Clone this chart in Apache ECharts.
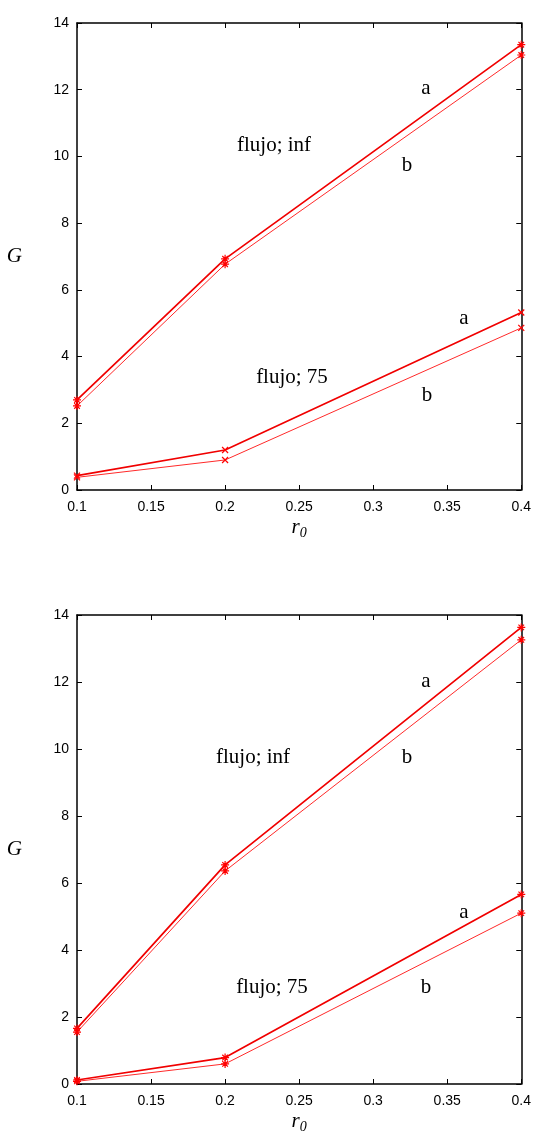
<!DOCTYPE html>
<html>
<head>
<meta charset="utf-8">
<script src="https://cdn.jsdelivr.net/npm/echarts@6/dist/echarts.min.js"></script>
<style>
  html, body { margin: 0; padding: 0; background: #fff; }
  #main { width: 534px; height: 1135px; }
</style>
</head>
<body>
<div id="main"></div>
<script>
// radio r0 (eje x)
const r0 = [0.1, 0.2, 0.4];
// grafico de arriba
const topInfA = [2.7, 6.93, 13.35];
const topInfB = [2.52, 6.77, 13.04];
const top75A = [0.43, 1.2, 5.32];
const top75B = [0.38, 0.9, 4.86];
// grafico de abajo
const botInfA = [1.66, 6.54, 13.63];
const botInfB = [1.55, 6.36, 13.26];
const bot75A = [0.12, 0.79, 5.66];
const bot75B = [0.08, 0.6, 5.1];

const serif = 'Liberation Serif';
const sans = 'Liberation Sans';
const RED_A = '#f00000';
const RED_B = '#ff2a2a';
const STAR = 'path://M0,5L10,5M5,0L5,10M1.5,1.5L8.5,8.5M8.5,1.5L1.5,8.5';
const CROSS = 'path://M0,0L10,10M10,0L0,10';

const chart = echarts.init(document.getElementById('main'));

function pts (ys) {
  return r0.map((x, i) => [x, ys[i]]);
}

function line (name, ys, grid, thick, sym) {
  return {
    name: name,
    type: 'line',
    xAxisIndex: grid * 2,
    yAxisIndex: grid * 2,
    data: pts(ys),
    symbol: sym,
    symbolSize: sym === CROSS ? 6 : 8,
    showSymbol: true,
    animation: false,
    lineStyle: { color: thick ? RED_A : RED_B, width: thick ? 1.7 : 1 },
    itemStyle: { color: 'rgba(0,0,0,0)', borderColor: '#ff0000', borderWidth: 1.2 }
  }
}

function xAxes (grid) {
  const base = {
    gridIndex: grid,
    type: 'value',
    min: 0.1,
    max: 0.4,
    interval: 0.05,
    axisLine: { show: true, onZero: false, lineStyle: { color: '#000', width: 1.5 } },
    axisTick: { show: true, inside: true, length: 5, lineStyle: { color: '#000' } },
    splitLine: { show: false }
  }
  return [
    Object.assign({}, base, {
      position: 'bottom',
      axisLabel: { color: '#000', fontFamily: sans, fontSize: 14, margin: 10, formatter: v => String(+v.toFixed(2)) },
      name: '{r|r}{s|0}',
      nameLocation: 'middle',
      nameGap: 24,
      nameTextStyle: {
        rich: {
          r: { fontFamily: serif, fontStyle: 'italic', fontSize: 21, color: '#000' },
          s: { fontFamily: serif, fontStyle: 'italic', fontSize: 14, color: '#000', verticalAlign: 'bottom', padding: [12, 0, 0, 0] }
        }
      }
    }),
    Object.assign({}, base, { position: 'top', axisLabel: { show: false } })
  ]
}

function yAxes (grid) {
  const base = {
    gridIndex: grid,
    type: 'value',
    min: 0,
    max: 14,
    interval: 2,
    axisLine: { show: true, onZero: false, lineStyle: { color: '#000', width: 1.5 } },
    axisTick: { show: true, inside: true, length: 5, lineStyle: { color: '#000' } },
    splitLine: { show: false }
  }
  return [
    Object.assign({}, base, {
      position: 'left',
      axisLabel: { color: '#000', fontFamily: sans, fontSize: 14, margin: 8 },
      name: 'G',
      nameLocation: 'middle',
      nameRotate: 0,
      nameGap: 55,
      nameTextStyle: { fontFamily: serif, fontStyle: 'italic', fontSize: 21, color: '#000', padding: [10, 0, 0, 0] }
    }),
    Object.assign({}, base, { position: 'right', axisLabel: { show: false } })
  ]
}

function label (text, x, y) {
  return {
    type: 'text',
    style: { text: text, x: x, y: y, font: '21px "Liberation Serif"', fill: '#000', textAlign: 'center', textVerticalAlign: 'middle' }
  }
}

chart.setOption({
  backgroundColor: '#fff',
  animation: false,
  grid: [
    { left: 77, top: 23, width: 446, height: 467 },
    { left: 77, top: 615, width: 446, height: 470 }
  ],
  xAxis: xAxes(0).concat(xAxes(1)),
  yAxis: yAxes(0).concat(yAxes(1)),
  series: [
    line('inf a', topInfA, 0, true, STAR),
    line('inf b', topInfB, 0, false, STAR),
    line('75 a', top75A, 0, true, CROSS),
    line('75 b', top75B, 0, false, CROSS),
    line('inf a', botInfA, 1, true, STAR),
    line('inf b', botInfB, 1, false, STAR),
    line('75 a', bot75A, 1, true, STAR),
    line('75 b', bot75B, 1, false, STAR)
  ],
  graphic: [
    label('a', 426, 88),
    label('b', 407, 165),
    label('flujo; inf', 274, 145),
    label('a', 464, 318),
    label('flujo; 75', 292, 377),
    label('b', 427, 395),
    label('a', 426, 681),
    label('b', 407, 757),
    label('flujo; inf', 253, 757),
    label('a', 464, 912),
    label('flujo; 75', 272, 987),
    label('b', 426, 987)
  ]
})
</script>
</body>
</html>
